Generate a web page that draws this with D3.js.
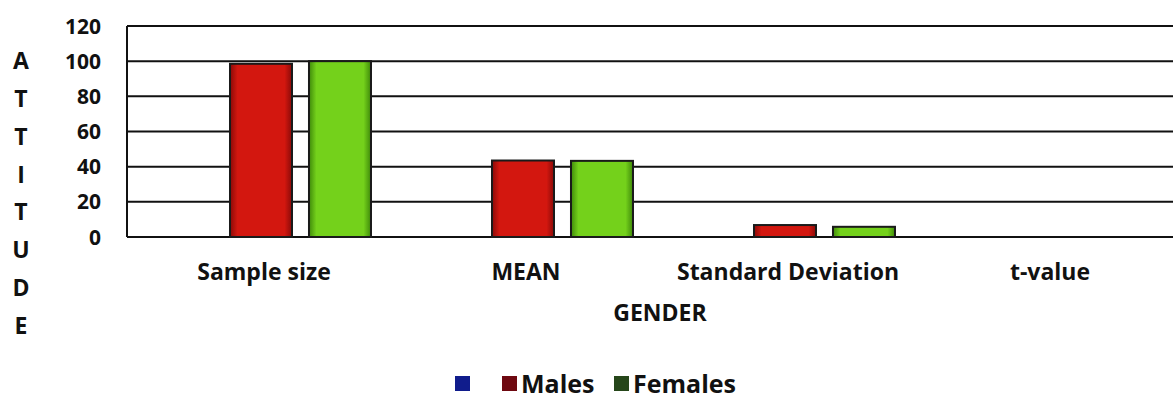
<!DOCTYPE html>
<html><head><meta charset="utf-8">
<script src="https://cdn.jsdelivr.net/npm/d3@7"></script>
<style>body{margin:0;background:#fff}svg{display:block}text{font-family:"Open Sans",sans-serif;font-weight:700;fill:#111}</style>
</head><body><svg id="c" width="1173" height="407"></svg>
<script>
const categories = ["Sample size", "MEAN", "Standard Deviation", "t-value"];
const seriesNames = ["", "Males", "Females"];
const blankSeries = [0, 0, 0, 0];
const males = [98.5, 43.5, 6.8, 0];
const females = [100, 43.3, 5.8, 0];
const yTicks = [0, 20, 40, 60, 80, 100, 120];
const yTitle = "ATTITUDE";
const xTitle = "GENDER";

const seriesValues = [blankSeries, males, females];
const fills = ["#1f2fa8", "#d3170f", "#74d11b"];
const darks = ["#8a0a08", "#8a0a08", "#3f8a0a"];
const legendColors = ["#101c8c", "#6e0810", "#26461a"];

const svg = d3.select("#c");
const L = 127, R = 1180, T = 26, B = 237;
const x = d3.scaleBand().domain(categories).range([130, 1178]).padding(0);
const xi = d3.scaleBand().domain(d3.range(3)).range([0, x.bandwidth()]).paddingInner(0.215).paddingOuter(0.266);
const y = d3.scaleLinear().domain([0, 120]).range([B, T]);

const defs = svg.append("defs");
fills.forEach((c, i) => {
  const g = defs.append("linearGradient").attr("id", "g" + i).attr("x1", 0).attr("x2", 1);
  g.append("stop").attr("offset", "0%").attr("stop-color", darks[i]);
  g.append("stop").attr("offset", "12%").attr("stop-color", c);
  g.append("stop").attr("offset", "88%").attr("stop-color", c);
  g.append("stop").attr("offset", "100%").attr("stop-color", darks[i]);
});

svg.append("g").selectAll("line").data(yTicks).join("line")
  .attr("x1", L).attr("x2", R).attr("y1", d => y(d)).attr("y2", d => y(d))
  .attr("stroke", "#111").attr("stroke-width", 2);
svg.append("line").attr("x1", L).attr("x2", L).attr("y1", T).attr("y2", B).attr("stroke", "#111").attr("stroke-width", 2);

svg.append("g").selectAll("text").data(yTicks).join("text")
  .attr("x", 101).attr("y", d => y(d)).attr("dy", "0.36em").attr("text-anchor", "end")
  .style("font-size", "21px").text(d => d);

const groups = svg.append("g").selectAll("g").data(categories).join("g")
  .attr("transform", d => `translate(${x(d)},0)`);
groups.selectAll("rect").data((d, ci) => seriesValues.map((s, si) => ({si, v: s[ci]})))
  .join("rect")
  .attr("x", d => xi(d.si)).attr("width", xi.bandwidth())
  .attr("y", d => y(d.v)).attr("height", d => y(0) - y(d.v))
  .attr("fill", d => `url(#g${d.si})`).attr("stroke", "#1a1a1a").attr("stroke-width", d => d.v > 0 ? 2 : 0);

svg.append("g").selectAll("text").data(categories).join("text")
  .attr("x", d => x(d) + x.bandwidth() / 2 + 3).attr("y", 280).attr("text-anchor", "middle")
  .style("font-size", "23px").text(d => d);

svg.append("text").attr("x", 660).attr("y", 321).attr("text-anchor", "middle").style("font-size", "23px").text(xTitle);

svg.append("g").selectAll("text").data(yTitle.split("")).join("text")
  .attr("x", 21).attr("y", (d, i) => 61 + i * 37.8).attr("dy", "0.36em").attr("text-anchor", "middle")
  .style("font-size", "23px").text(d => d);

const legX = [455, 502, 614];
const leg = svg.append("g").selectAll("g").data(seriesNames).join("g")
  .attr("transform", (d, i) => `translate(${legX[i]},376)`);
leg.append("rect").attr("width", 15).attr("height", 15).attr("fill", (d, i) => legendColors[i]);
leg.append("text").attr("x", 19).attr("y", 8).attr("dy", "0.36em").style("font-size", "25px").text(d => d);
</script></body></html>
